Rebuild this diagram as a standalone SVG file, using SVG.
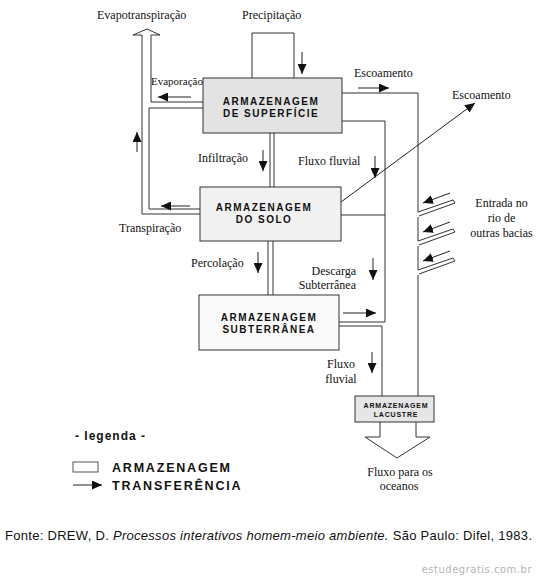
<svg xmlns="http://www.w3.org/2000/svg" width="537" height="577" viewBox="0 0 537 577">
<defs>
<marker id="ah" markerUnits="userSpaceOnUse" markerWidth="10" markerHeight="9" refX="10" refY="4.5" orient="auto">
<path d="M0,0 L10,4.5 L0,9 Z" fill="#111"/>
</marker>
</defs>
<style>
.box{stroke:#333;stroke-width:1}
.ln{fill:none;stroke:#333;stroke-width:1}
.arr{fill:none;stroke:#222;stroke-width:1;marker-end:url(#ah)}
.lbl{font-family:"Liberation Serif","Times New Roman",serif;font-size:12px;fill:#111}
.bt{font-family:"Liberation Sans",Arial,sans-serif;font-weight:bold;font-size:10px;letter-spacing:1.5px;text-anchor:middle;fill:#111}
.lg{font-family:"Liberation Sans",Arial,sans-serif;font-weight:bold;fill:#111}
</style>
<rect width="537" height="577" fill="#fff"/>

<g id="connectors">
<path class="ln" d="M252,78 V33 H294 V78"/>
<path class="ln" d="M200,214 H142 V35 H133 L147,29 L160,35 H151 V102 H203"/>
<path class="ln" d="M203,108 H149 V209 H200"/>
<path class="ln" d="M270,133 V187 M274,133 V187"/>
<path class="ln" d="M268,241 V295 M273,241 V295"/>
<path class="ln" d="M342,121 H385 V322 H339"/>
<path class="ln" d="M341,215 H385"/>
<path class="ln" d="M339,326 H382 V396"/>
<path class="ln" d="M342,93 H418 V212 M418,217 V241 M418,246 V270 M418,275 V396"/>
<path class="ln" d="M418,212 L453,200 L455,203 L419,216"/>
<path class="ln" d="M418,241 L453,229 L455,232 L419,245"/>
<path class="ln" d="M418,270 L453,258 L455,261 L419,274"/>
<path class="ln" d="M380,422 V437 H365 L397,458 L430,437 H416 V422"/>
<line class="arr" x1="302" y1="52" x2="302" y2="74"/>
<line class="arr" x1="191" y1="97" x2="158" y2="97"/>
<line class="arr" x1="137" y1="152" x2="137" y2="132"/>
<line class="arr" x1="358" y1="88" x2="389" y2="88"/>
<line class="arr" x1="263" y1="150" x2="263" y2="171"/>
<line class="arr" x1="375" y1="156" x2="375" y2="178"/>
<line class="arr" x1="341" y1="202" x2="475" y2="103"/>
<line class="arr" x1="190" y1="206" x2="161" y2="206"/>
<line class="arr" x1="450" y1="193" x2="423" y2="203"/>
<line class="arr" x1="450" y1="222" x2="423" y2="232"/>
<line class="arr" x1="450" y1="251" x2="423" y2="261"/>
<line class="arr" x1="258" y1="252" x2="258" y2="273"/>
<line class="arr" x1="373" y1="258" x2="373" y2="280"/>
<line class="arr" x1="343" y1="313" x2="376" y2="313"/>
<line class="arr" x1="372" y1="352" x2="372" y2="373"/>
</g>

<g id="superficie">
<rect class="box" x="203" y="78" width="139" height="55" fill="#e3e3e3"/>
<text class="bt" x="271" y="105">ARMAZENAGEM</text>
<text class="bt" x="271" y="117">DE SUPERFÍCIE</text>
</g>
<g id="solo">
<rect class="box" x="200" y="187" width="141" height="54" fill="#f1f1f1"/>
<text class="bt" x="264" y="211">ARMAZENAGEM</text>
<text class="bt" x="264" y="223">DO SOLO</text>
</g>
<g id="subterranea">
<rect class="box" x="199" y="295" width="140" height="55" fill="#fafafa"/>
<text class="bt" x="269" y="321">ARMAZENAGEM</text>
<text class="bt" x="269" y="333">SUBTERRÂNEA</text>
</g>
<g id="lacustre">
<rect class="box" x="355" y="396" width="79" height="26" fill="#e6e6e6"/>
<text class="bt" x="396" y="408" style="font-size:7px;letter-spacing:0.8px">ARMAZENAGEM</text>
<text class="bt" x="396" y="417" style="font-size:7px;letter-spacing:0.8px">LACUSTRE</text>
</g>

<g id="labels">
<text class="lbl" x="97" y="19">Evapotranspiração</text>
<text class="lbl" x="242" y="19">Precipitação</text>
<text class="lbl" x="151" y="85" style="font-size:11px">Evaporação</text>
<text class="lbl" x="354" y="77">Escoamento</text>
<text class="lbl" x="452" y="99">Escoamento</text>
<text class="lbl" x="198" y="162">Infiltração</text>
<text class="lbl" x="298" y="165">Fluxo fluvial</text>
<text class="lbl" x="119" y="232">Transpiração</text>
<text class="lbl" x="191" y="267">Percolação</text>
<text class="lbl" x="356" y="275" text-anchor="end">Descarga</text>
<text class="lbl" x="356" y="289" text-anchor="end">Subterrânea</text>
<text class="lbl" x="341" y="368" text-anchor="middle">Fluxo</text>
<text class="lbl" x="341" y="383" text-anchor="middle">fluvial</text>
<text class="lbl" x="501.5" y="207" text-anchor="middle">Entrada no</text>
<text class="lbl" x="501.5" y="222" text-anchor="middle">rio de</text>
<text class="lbl" x="501.5" y="237" text-anchor="middle">outras bacias</text>
<text class="lbl" x="400" y="476" text-anchor="middle">Fluxo para os</text>
<text class="lbl" x="399" y="490" text-anchor="middle">oceanos</text>
</g>

<g id="legenda">
<text class="lg" x="75" y="440" style="font-size:12px;letter-spacing:1px">- legenda -</text>
<rect x="73" y="462" width="25" height="10" fill="#fff" stroke="#555" stroke-width="1"/>
<text class="lg" x="112" y="472" style="font-size:12.5px;letter-spacing:1.8px">ARMAZENAGEM</text>
<line class="arr" x1="73" y1="485" x2="102" y2="485"/>
<text class="lg" x="112" y="490" style="font-size:12.5px;letter-spacing:1.8px">TRANSFERÊNCIA</text>
</g>

<text x="5" y="540" font-family="Liberation Sans, Arial, sans-serif" font-size="13" fill="#111" textLength="527" lengthAdjust="spacing">Fonte: DREW, D. <tspan font-style="italic">Processos interativos homem-meio ambiente.</tspan> São Paulo: Difel, 1983.</text>
<text x="532" y="573" font-family="DejaVu Sans, sans-serif" font-size="10" fill="#b5b5b5" text-anchor="end" letter-spacing="0.5">estudegratis.com.br</text>
</svg>
